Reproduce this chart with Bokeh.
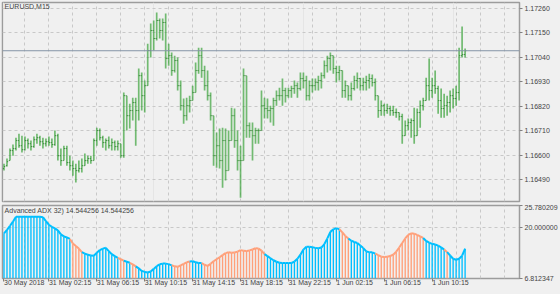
from bokeh.plotting import figure
from bokeh.layouts import column
from bokeh.models import (Range1d, FixedTicker, Span, Label, ColumnDataSource, Grid,
                          NumeralTickFormatter)
from bokeh.embed import file_html
from bokeh.resources import INLINE

# ---------------- data ----------------
symbol = "EURUSD,M15"
ind_title = "Advanced ADX 32) 14.544256 14.544256"
bid = 1.17070

opens = [1.16540, 1.16553, 1.16576, 1.16621, 1.16630, 1.16666, 1.16643, 1.16625, 1.16666, 1.16652,
         1.16639, 1.16670, 1.16679, 1.16661, 1.16652, 1.16661, 1.16657, 1.16648, 1.16688, 1.16598,
         1.16576, 1.16630, 1.16567, 1.16553, 1.16540, 1.16531, 1.16540, 1.16553, 1.16576, 1.16585,
         1.16576, 1.16666, 1.16711, 1.16679, 1.16657, 1.16666, 1.16643, 1.16657, 1.16639, 1.16652,
         1.16598, 1.16868, 1.16778, 1.16801, 1.16837, 1.16801, 1.16958, 1.16868, 1.16913, 1.17071,
         1.17161, 1.17125, 1.17206, 1.17161, 1.17197, 1.17035, 1.17048, 1.16981, 1.17026, 1.16913,
         1.16823, 1.16778, 1.16823, 1.16846, 1.16882, 1.16981, 1.17048, 1.16981, 1.16913, 1.16868,
         1.16778, 1.16598, 1.16643, 1.16576, 1.16666, 1.16531, 1.16666, 1.16778, 1.16666, 1.16576,
         1.16576, 1.16958, 1.16733, 1.16711, 1.16688, 1.16711, 1.16711, 1.16823, 1.16810, 1.16801,
         1.16810, 1.16846, 1.16868, 1.16868, 1.16891, 1.16868, 1.16891, 1.16900, 1.16913, 1.16900,
         1.16945, 1.16936, 1.16868, 1.16913, 1.16913, 1.16927, 1.16936, 1.16958, 1.17003, 1.17035,
         1.17048, 1.16990, 1.16972, 1.16981, 1.16891, 1.16913, 1.16868, 1.16900, 1.16936, 1.16945,
         1.16913, 1.16927, 1.16936, 1.16945, 1.16927, 1.16868, 1.16801, 1.16823, 1.16801, 1.16810,
         1.16801, 1.16792, 1.16792, 1.16774, 1.16688, 1.16733, 1.16747, 1.16756, 1.16688, 1.16792,
         1.16823, 1.16846, 1.16913, 1.16891, 1.16913, 1.16900, 1.16846, 1.16810, 1.16823, 1.16837,
         1.16868, 1.16855, 1.16882, 1.17048, 1.17053]

highs = [1.16562, 1.16585, 1.16630, 1.16648, 1.16679, 1.16697, 1.16688, 1.16684, 1.16675, 1.16666,
         1.16684, 1.16697, 1.16688, 1.16679, 1.16675, 1.16684, 1.16675, 1.16711, 1.16697, 1.16630,
         1.16643, 1.16643, 1.16598, 1.16576, 1.16562, 1.16576, 1.16585, 1.16608, 1.16598, 1.16598,
         1.16675, 1.16724, 1.16720, 1.16688, 1.16675, 1.16684, 1.16675, 1.16666, 1.16666, 1.16652,
         1.16882, 1.16868, 1.16832, 1.16859, 1.16859, 1.16990, 1.16972, 1.16936, 1.17102, 1.17192,
         1.17206, 1.17242, 1.17215, 1.17215, 1.17238, 1.17102, 1.17062, 1.17048, 1.17040, 1.16936,
         1.16855, 1.16859, 1.16868, 1.16913, 1.17017, 1.17084, 1.17084, 1.17003, 1.16981, 1.16882,
         1.16778, 1.16702, 1.16720, 1.16724, 1.16720, 1.16711, 1.16814, 1.16810, 1.16711, 1.16643,
         1.16990, 1.16958, 1.16747, 1.16747, 1.16724, 1.16720, 1.16891, 1.16859, 1.16855, 1.16823,
         1.16859, 1.16891, 1.16904, 1.16945, 1.16904, 1.16904, 1.16913, 1.16936, 1.16927, 1.16972,
         1.16972, 1.16958, 1.16936, 1.16945, 1.16945, 1.16958, 1.16972, 1.17026, 1.17048, 1.17062,
         1.17048, 1.17003, 1.17003, 1.16981, 1.16936, 1.16913, 1.16927, 1.16958, 1.16972, 1.16949,
         1.16949, 1.16958, 1.16967, 1.16963, 1.16945, 1.16868, 1.16846, 1.16832, 1.16832, 1.16823,
         1.16823, 1.16810, 1.16792, 1.16787, 1.16756, 1.16765, 1.16765, 1.16814, 1.16810, 1.16846,
         1.16859, 1.16949, 1.17035, 1.16949, 1.16981, 1.16913, 1.16900, 1.16877, 1.16868, 1.16891,
         1.16900, 1.16913, 1.17084, 1.17179, 1.17080]

lows = [1.16531, 1.16549, 1.16576, 1.16598, 1.16621, 1.16634, 1.16612, 1.16621, 1.16630, 1.16621,
        1.16634, 1.16652, 1.16643, 1.16630, 1.16639, 1.16643, 1.16634, 1.16643, 1.16576, 1.16553,
        1.16576, 1.16553, 1.16531, 1.16508, 1.16477, 1.16522, 1.16522, 1.16553, 1.16562, 1.16562,
        1.16576, 1.16643, 1.16666, 1.16634, 1.16621, 1.16630, 1.16621, 1.16621, 1.16621, 1.16589,
        1.16589, 1.16711, 1.16720, 1.16756, 1.16643, 1.16756, 1.16801, 1.16792, 1.16913, 1.17040,
        1.17071, 1.17116, 1.17125, 1.17116, 1.16990, 1.17003, 1.16958, 1.16972, 1.16891, 1.16801,
        1.16742, 1.16756, 1.16792, 1.16846, 1.16882, 1.16967, 1.16949, 1.16891, 1.16846, 1.16756,
        1.16553, 1.16544, 1.16540, 1.16454, 1.16486, 1.16531, 1.16666, 1.16634, 1.16531, 1.16409,
        1.16576, 1.16679, 1.16679, 1.16576, 1.16652, 1.16652, 1.16711, 1.16765, 1.16765, 1.16747,
        1.16733, 1.16823, 1.16846, 1.16823, 1.16837, 1.16859, 1.16859, 1.16877, 1.16859, 1.16891,
        1.16900, 1.16846, 1.16846, 1.16882, 1.16891, 1.16891, 1.16900, 1.16945, 1.16972, 1.16981,
        1.16967, 1.16927, 1.16936, 1.16859, 1.16859, 1.16846, 1.16846, 1.16891, 1.16900, 1.16891,
        1.16891, 1.16891, 1.16900, 1.16909, 1.16846, 1.16769, 1.16778, 1.16778, 1.16787, 1.16778,
        1.16778, 1.16769, 1.16756, 1.16652, 1.16688, 1.16711, 1.16679, 1.16652, 1.16688, 1.16724,
        1.16801, 1.16846, 1.16846, 1.16859, 1.16877, 1.16787, 1.16769, 1.16769, 1.16778, 1.16792,
        1.16810, 1.16823, 1.16846, 1.17040, 1.17040]

closes = [1.16549, 1.16571, 1.16621, 1.16630, 1.16666, 1.16643, 1.16625, 1.16666, 1.16652, 1.16639,
          1.16670, 1.16679, 1.16661, 1.16652, 1.16661, 1.16657, 1.16648, 1.16688, 1.16598, 1.16576,
          1.16630, 1.16567, 1.16553, 1.16540, 1.16531, 1.16540, 1.16553, 1.16576, 1.16585, 1.16576,
          1.16666, 1.16711, 1.16679, 1.16657, 1.16666, 1.16643, 1.16657, 1.16639, 1.16652, 1.16598,
          1.16868, 1.16778, 1.16801, 1.16837, 1.16801, 1.16958, 1.16868, 1.16913, 1.17071, 1.17161,
          1.17125, 1.17206, 1.17161, 1.17197, 1.17035, 1.17048, 1.16981, 1.17026, 1.16913, 1.16823,
          1.16778, 1.16823, 1.16846, 1.16882, 1.16981, 1.17048, 1.16981, 1.16913, 1.16868, 1.16778,
          1.16598, 1.16643, 1.16576, 1.16666, 1.16531, 1.16666, 1.16778, 1.16666, 1.16576, 1.16576,
          1.16958, 1.16733, 1.16711, 1.16688, 1.16711, 1.16711, 1.16823, 1.16810, 1.16801, 1.16810,
          1.16846, 1.16868, 1.16868, 1.16891, 1.16868, 1.16891, 1.16900, 1.16913, 1.16900, 1.16945,
          1.16936, 1.16868, 1.16913, 1.16913, 1.16927, 1.16936, 1.16958, 1.17003, 1.17035, 1.17048,
          1.16990, 1.16972, 1.16981, 1.16891, 1.16913, 1.16868, 1.16900, 1.16936, 1.16945, 1.16913,
          1.16927, 1.16936, 1.16945, 1.16927, 1.16868, 1.16801, 1.16823, 1.16801, 1.16810, 1.16801,
          1.16792, 1.16792, 1.16774, 1.16688, 1.16733, 1.16747, 1.16756, 1.16688, 1.16792, 1.16823,
          1.16846, 1.16913, 1.16891, 1.16913, 1.16900, 1.16846, 1.16810, 1.16823, 1.16837, 1.16868,
          1.16855, 1.16882, 1.17048, 1.17053, 1.17070]

adx = [18.54, 19.46, 20.51, 21.57, 22.88, 22.88, 22.88, 22.88, 22.88, 22.88,
       22.88, 22.88, 22.88, 22.75, 21.70, 20.78, 20.25, 19.85, 19.33, 18.27,
       17.75, 17.48, 17.09, 15.90, 15.24, 14.58, 13.66, 13.27, 13.00, 12.79,
       12.74, 13.53, 14.19, 14.58, 14.79, 13.92, 13.13, 12.61, 12.16, 11.82,
       11.47, 11.16, 10.89, 10.50, 9.97, 9.45, 8.79, 8.52, 8.39, 8.65,
       9.31, 10.02, 10.50, 10.68, 10.68, 10.55, 10.24, 9.97, 9.84, 10.24,
       10.63, 11.03, 11.24, 11.29, 11.03, 10.84, 10.84, 10.37, 10.10, 10.63,
       11.29, 11.82, 12.34, 12.87, 13.40, 13.61, 13.50, 13.56, 13.79, 14.19,
       14.00, 13.98, 14.11, 14.35, 14.66, 14.58, 14.06, 13.13, 12.61, 12.08,
       11.55, 11.16, 10.89, 10.84, 10.84, 10.84, 10.84, 11.21, 11.95, 13.00,
       14.32, 15.06, 15.06, 14.93, 14.77, 14.66, 14.85, 15.77, 17.22, 18.93,
       19.59, 19.91, 19.59, 18.80, 17.88, 17.22, 16.64, 16.30, 16.03, 15.37,
       14.72, 13.85, 13.66, 13.61, 13.27, 12.87, 12.48, 12.42, 12.45, 12.66,
       13.00, 13.79, 14.85, 16.03, 17.22, 18.14, 18.54, 18.46, 18.14, 17.75,
       17.35, 16.56, 16.11, 15.82, 15.64, 15.35, 14.90, 14.32, 13.66, 12.79,
       11.95, 11.68, 11.95, 12.74, 14.544256]

# colour state of each ADX bar, as runs: ("B" = blue, "S" = salmon, number of bars)
adx_runs = [("B", 23), ("S", 4), ("B", 12), ("S", 2), ("B", 2), ("S", 2), ("B", 12),
            ("S", 6), ("B", 4), ("S", 21), ("B", 25), ("S", 3), ("B", 9), ("S", 16),
            ("B", 7), ("S", 1), ("B", 6)]

price_ticks = [1.16490, 1.16600, 1.16710, 1.16820, 1.16930, 1.17040, 1.17150, 1.17260]
adx_min, adx_max = 6.812347, 25.780209
adx_ticks = [6.812347, 20.0, 25.780209]
time_tick_idx = [0, 15, 31, 47, 63, 79, 95, 111, 127, 143]
time_tick_labels = ["30 May 2018", "31 May 02:15", "31 May 06:15", "31 May 10:15",
                    "31 May 14:15", "31 May 18:15", "31 May 22:15", "1 Jun 02:15",
                    "1 Jun 06:15", "1 Jun 10:15"]

# ---------------- styling ----------------
BG = "#f0f0f0"
FONT = "Liberation Sans"
GRID = "#c8c8c8"
FRAME = "#9c9c9c"
TXT = "#444444"
BAR = "#3aa33a"
BLUE = "#00BFFF"
SALMON = "#FFA07A"

n = len(closes)
idx = list(range(n))
side = []
for s, k in adx_runs:
    side += [s] * k
colors = [BLUE if s == "B" else SALMON for s in side]

xr = Range1d(-0.5, 172.17)
vgrid = list(range(7, 172, 8))


def style_axis(ax):
    ax.axis_line_color = None
    ax.major_tick_line_color = "#808080"
    ax.major_tick_out = 3
    ax.major_tick_in = 0
    ax.minor_tick_line_color = None
    ax.major_label_standoff = 2
    ax.major_label_text_font = FONT
    ax.major_label_text_font_size = "7px"
    ax.major_label_text_color = TXT


# ---------------- price panel ----------------
top = figure(width=560, height=204, x_range=xr, y_range=Range1d(1.16392, 1.17287),
             output_backend="svg", toolbar_location=None, x_axis_location=None,
             y_axis_location="right", min_border_left=2, min_border_top=2,
             min_border_right=40, min_border_bottom=3,
             background_fill_color=BG, border_fill_color=BG)
top.outline_line_color = FRAME
top.outline_line_width = 1.5
top.yaxis.ticker = FixedTicker(ticks=price_ticks)
top.yaxis.formatter = NumeralTickFormatter(format="0.00000")
style_axis(top.yaxis[0])
top.ygrid.ticker = FixedTicker(ticks=price_ticks)
top.ygrid.grid_line_color = GRID
top.ygrid.grid_line_dash = "3 3"
top.add_layout(Grid(dimension=0, ticker=FixedTicker(ticks=vgrid), grid_line_color=GRID,
                    grid_line_dash="3 3"))

src = ColumnDataSource(dict(idx=idx, o=opens, h=highs, l=lows, c=closes,
                            il=[i - 0.4 for i in idx], ir=[i + 0.4 for i in idx]))
top.segment(x0="idx", y0="l", x1="idx", y1="h", source=src, line_color=BAR,
            line_width=1.7, line_alpha=0.7)
top.segment(x0="il", y0="o", x1="idx", y1="o", source=src, line_color="#2b7f2b",
            line_width=1, line_alpha=0.8)
top.segment(x0="idx", y0="c", x1="ir", y1="c", source=src, line_color="#2b7f2b",
            line_width=1, line_alpha=0.8)

top.add_layout(Span(location=bid, dimension="width", line_color="#8494a6", line_width=1))
top.add_layout(Label(x=173.2, y=bid, text=f"{bid:.5f}", text_font=FONT, text_font_size="7px",
                     text_color="white", text_baseline="middle", text_align="left",
                     background_fill_color="#75869a", padding=1))
top.add_layout(Label(x=0.2, y=1.17284, text=symbol, text_font=FONT, text_font_size="7px",
                     text_color=TXT, text_baseline="top", text_align="left"))

# ---------------- ADX panel ----------------
bot = figure(width=560, height=90, x_range=xr, y_range=Range1d(adx_min, adx_max),
             output_backend="svg", toolbar_location=None, y_axis_location="right",
             min_border_left=2, min_border_top=1, min_border_right=40, min_border_bottom=16,
             background_fill_color=BG, border_fill_color=BG)
bot.outline_line_color = FRAME
bot.outline_line_width = 1.5
bot.yaxis.ticker = FixedTicker(ticks=adx_ticks)
bot.yaxis.formatter = NumeralTickFormatter(format="0.000000")
style_axis(bot.yaxis[0])
bot.ygrid.ticker = FixedTicker(ticks=[20.0])
bot.ygrid.grid_line_color = GRID
bot.ygrid.grid_line_dash = "3 3"
bot.xgrid.ticker = FixedTicker(ticks=vgrid)
bot.xgrid.grid_line_color = GRID
bot.xgrid.grid_line_dash = "3 3"
bot.xaxis.ticker = FixedTicker(ticks=time_tick_idx)
bot.xaxis.major_label_overrides = dict(zip(time_tick_idx, time_tick_labels))
style_axis(bot.xaxis[0])
bot.xaxis.major_label_standoff = 1
# a tiny numeric orientation makes Bokeh anchor each label at one end (MT4 style)
bot.xaxis.major_label_orientation = -0.0001

asrc = ColumnDataSource(dict(idx=idx, v=adx, col=colors))
bot.vbar(x="idx", top="v", bottom=adx_min, width=0.45, source=asrc,
         fill_color="col", line_color=None)
lsrc = ColumnDataSource(dict(x0=idx[:-1], x1=idx[1:], y0=adx[:-1], y1=adx[1:], col=colors[1:]))
bot.segment(x0="x0", y0="y0", x1="x1", y1="y1", source=lsrc, line_color="col", line_width=2)
bot.add_layout(Label(x=0.2, y=25.35, text=ind_title, text_font=FONT, text_font_size="7px",
                     text_color=TXT, text_baseline="top", text_align="left"))

layout = column(top, bot, spacing=0)
layout.styles = {"background-color": BG}
open("out.html", "w").write(file_html(layout, INLINE))
